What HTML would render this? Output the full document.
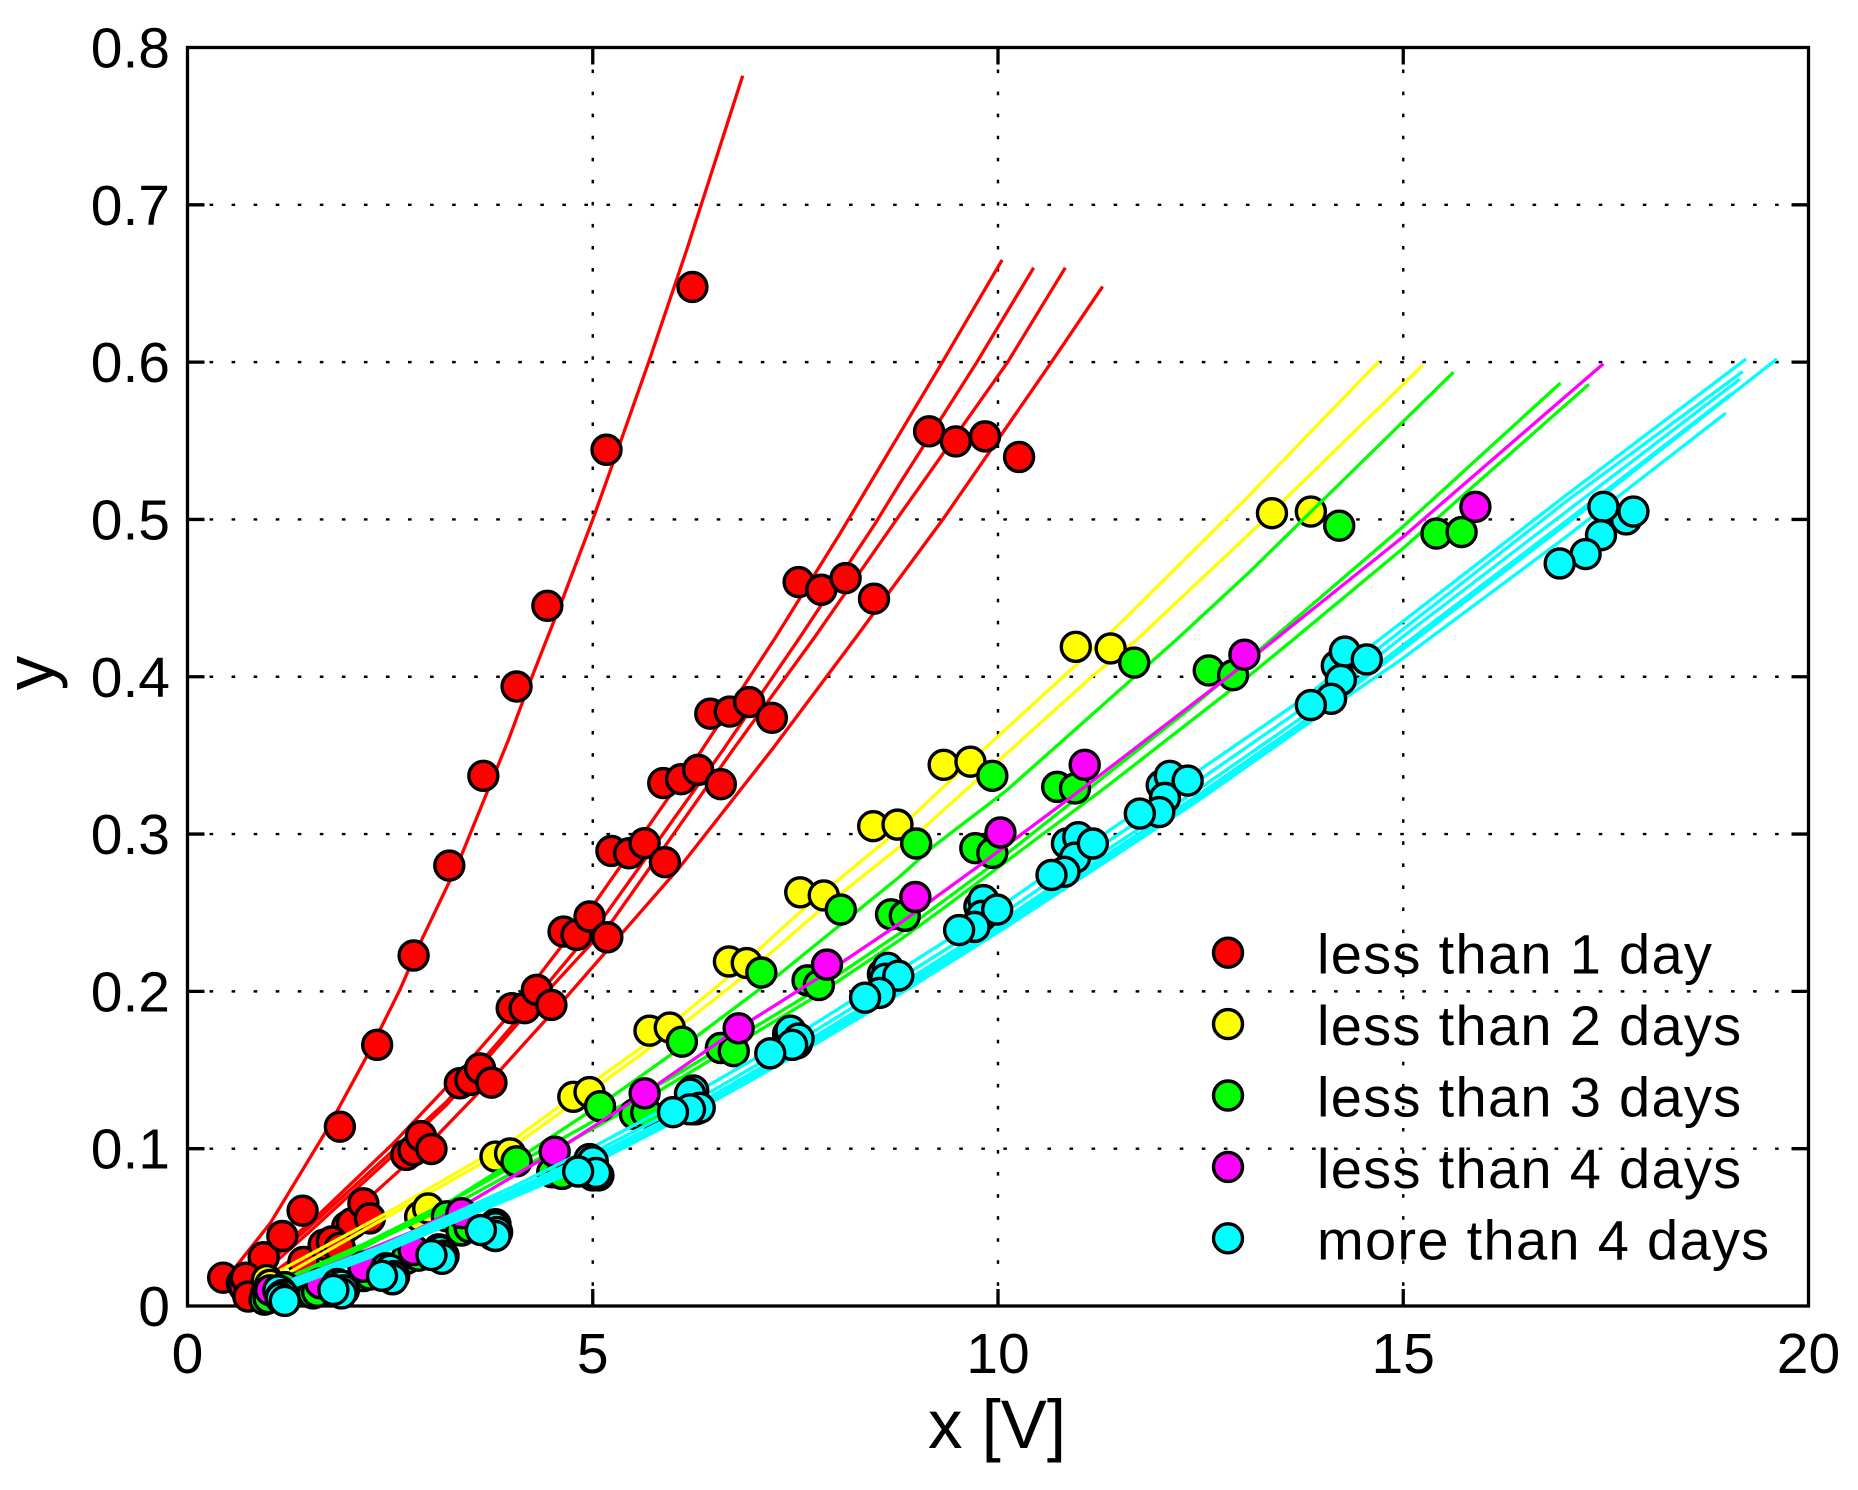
<!DOCTYPE html>
<html lang="en">
<head>
<meta charset="utf-8">
<title>Scatter chart with fitted curves</title>
<style>
html,body{margin:0;padding:0;background:#fff;}
svg{display:block;}
text{font-family:"Liberation Sans",Arial,sans-serif;fill:#000;}
.tick-label{font-size:57px;}
.axis-label{font-size:69px;}
.legend-label{font-size:56px;letter-spacing:1.3px;}
.grid{stroke:#000;stroke-width:2.4;stroke-dasharray:3.6 18.45;fill:none;}
.tick{stroke:#000;stroke-width:3.3;}
.frame{stroke:#000;stroke-width:3.3;fill:none;}
.curve{fill:none;stroke-width:3.3;stroke-linejoin:round;}
.dot{stroke:#000;stroke-width:3.4;}
.red{stroke:#ff0000;} .yellow{stroke:#ffff00;} .green{stroke:#00ff00;} .magenta{stroke:#ff00ff;} .cyan{stroke:#00ffff;}
.dot.red{fill:#ff0000;stroke:#000;} .dot.yellow{fill:#ffff00;stroke:#000;} .dot.green{fill:#00ff00;stroke:#000;} .dot.magenta{fill:#ff00ff;stroke:#000;} .dot.cyan{fill:#00ffff;stroke:#000;}
</style>
</head>
<body>
<svg id="chart" xmlns="http://www.w3.org/2000/svg" width="1858" height="1490" viewBox="0 0 1858 1490"></svg>
<script>
const xTicks = [0, 5, 10, 15, 20];
const yTicks = [0, 0.1, 0.2, 0.3, 0.4, 0.5, 0.6, 0.7, 0.8];
const xTickLabels = ['0', '5', '10', '15', '20'];
const yTickLabels = ['0', '0.1', '0.2', '0.3', '0.4', '0.5', '0.6', '0.7', '0.8'];
const legendLabels = ['less than 1 day', 'less than 2 days', 'less than 3 days', 'less than 4 days', 'more than 4 days'];
const groupNames = ['red', 'yellow', 'green', 'magenta', 'cyan'];

const redLineX = [
 [.53,.565,1.02,1.72,2.21,2.62,2.87,3.34,3.96,4.25,4.64,5.0,5.25,5.69,6.16,6.85],
 [.72,1.55,2.54,3.2,3.92,5.05,6.34,7.25,8.05,9.28,10.05],
 [.75,1.5,2.5,3.2,4.04,5.17,6.61,7.55,8.48,8.79,9.74,10.44],
 [.78,1.5,2.5,3.2,4.06,5.25,6.73,7.73,8.79,10.12,10.83],
 [.85,1.5,2.21,2.99,3.86,4.68,5.38,6.08,7.21,8.24,8.79,9.32,10.66,11.29]
];
const redLineY = [
 [.02,.023,.0526,.112,.1585,.201,.2306,.2815,.36,.4,.451,.5,.5358,.6,.6715,.782],
 [.018,.0547,.1034,.1394,.182,.258,.353,.4246,.491,.597,.665],
 [.016,.05,.097,.13,.18,.2497,.3536,.4246,.497,.523,.6,.66],
 [.014,.047,.094,.128,.1787,.2454,.3536,.4246,.503,.6,.66],
 [.013,.038,.0674,.1035,.15,.1967,.238,.2794,.3536,.4246,.463,.5,.6,.648]
];
const redDotX = [
 [.44,.94,1.17,1.42,1.88,2.34,2.79,3.23,3.65,4.06,4.44,5.17,6.23],
 [.67,1.43,1.97,2.7,3.36,4.0,4.64,5.23,5.87,6.45,7.54,9.15],
 [.7,1.68,2.03,2.79,3.49,4.16,4.8,5.45,6.09,6.69,7.82,9.48],
 [.72,1.78,2.17,2.88,3.61,4.31,4.96,5.64,6.3,6.93,8.12,9.84],
 [.75,1.88,2.25,3.01,3.75,4.49,5.18,5.89,6.58,7.21,8.47,10.26]
];
const redDotY = [
 [.018,.031,.0445,.0606,.114,.166,.2228,.28,.337,.3938,.4451,.5443,.6478],
 [.0145,.028,.0504,.096,.1416,.1893,.238,.2893,.3324,.3765,.4602,.556],
 [.012,.039,.0526,.099,.1437,.1893,.2359,.2878,.3349,.3779,.4553,.5496],
 [.018,.041,.0653,.108,.151,.201,.2476,.2942,.3408,.3839,.4627,.5528],
 [.006,.037,.0557,.0998,.142,.1914,.2344,.2821,.3317,.3739,.4496,.5397]
];

const yellowLineX = [
 [1.0,2.38,4.02,4.64,5.79,6.73,7.68,8.63,9.82,11.3,13.11,14.7],
 [1.02,2.46,4.1,5.05,6.08,6.86,7.76,8.79,9.08,10.02,11.16,11.71,13.11,15.24]
];
const yellowLineY = [
 [.0186,.0568,.1056,.1289,.1713,.2117,.2561,.2963,.3536,.4235,.5157,.6005],
 [.0144,.0565,.1045,.1395,.178,.2094,.2497,.292,.3037,.3472,.4002,.4235,.4913,.598]
];
const yellowDotX = [
 [.98,2.87,3.8,4.76,5.7,6.68,7.56,8.46,9.33,10.96,13.38],
 [1.02,2.97,3.98,4.96,5.95,6.9,7.85,8.76,9.66,11.39,13.86]
];
const yellowDotY = [
 [.0165,.0568,.095,.133,.175,.219,.263,.305,.344,.419,.504],
 [.0135,.062,.097,.136,.177,.218,.261,.306,.346,.418,.505]
];

const greenLineX = [
 [1.06,1.96,3.2,4.15,5.21,6.28,7.27,8.79,9.2,10.1,12.2,13.11,15.62],
 [1.0,2.2,3.4,4.68,6,7.68,8.79,10,12.41,13.2,15,16.94],
 [1.0,2.2,3.4,4.68,5.6,6.5,7.68,8.79,9.29,11.34,13.11,13.64,15,17.29]
];
const greenLineY = [
 [.0123,.0313,.0653,.096,.1321,.1713,.2095,.273,.292,.3275,.4235,.467,.5936],
 [.0125,.04,.071,.108,.146,.1985,.237,.283,.3815,.416,.4956,.5867],
 [.0122,.0385,.0675,.1034,.13,.1578,.1946,.2327,.2515,.3302,.4012,.4235,.4818,.5859]
];
const greenDotX = [
 [.97,1.2,3.2,4.06,5.09,6.1,7.08,8.06,8.99,9.93,11.68,14.21],
 [.95,1.55,2.17,2.7,3.38,4.5,5.52,6.58,7.65,8.68,9.72,10.73,12.6,15.41],
 [1.0,1.6,2.25,2.85,3.48,4.62,5.66,6.74,7.79,8.85,9.93,10.95,12.9,15.72]
];
const greenDotY = [
 [.008,.012,.057,.092,.127,.168,.212,.252,.294,.337,.409,.496],
 [.004,.008,.019,.03,.048,.085,.122,.164,.207,.249,.291,.33,.404,.491],
 [.005,.009,.02,.032,.05,.084,.123,.162,.204,.248,.288,.329,.401,.492]
];

const magentaLineX = [
 [1.02,1.64,2.17,2.79,3.38,4.53,5.64,6.8,7.89,8.79,9.78,10.97,12.9,15,17.47]
];
const magentaLineY = [
 [.012,.0235,.0345,.0475,.063,.0981,.1352,.1765,.212,.2433,.2804,.326,.4023,.489,.599]
];
const magentaDotX = [
 [1.02,1.64,2.17,2.79,3.38,4.53,5.64,6.8,7.89,8.98,10.03,11.07,13.04,15.89]
];
const magentaDotY = [
 [.01,.0144,.025,.0356,.059,.0981,.1352,.1765,.217,.26,.301,.344,.414,.508]
];

const cyanLineX = [
 [1.08,2.38,4.02,5,6.4,7.68,8.92,10.15,11.42,12.49,13.69,14.97,17,19.23],
 [1.1,2.38,4.02,5,6.4,7.68,8.92,10.15,11.42,12.49,13.69,14.97,17,19.19],
 [1.1,2.38,4.02,5,6.4,7.68,8.92,10.15,11.42,12.49,13.69,14.97,17,19.15],
 [1.1,2.38,4.02,5,6.4,7.68,8.92,10.15,11.42,12.49,13.69,14.97,17,19.05],
 [1.1,2.38,4.02,5,6.4,7.68,8.92,10.15,11.42,12.49,13.69,14.97,17,19.61],
 [1.1,2.38,4.02,5,6.4,7.68,8.92,10.15,11.42,12.49,13.69,14.97,17,18.98]
];
const cyanLineY = [
 [.0125,.0377,.0759,.101,.1394,.1775,.2178,.2582,.304,.3408,.3834,.4341,.515,.602],
 [.0115,.0362,.0735,.0975,.1345,.173,.2125,.2525,.2975,.3345,.3775,.429,.511,.594],
 [.011,.035,.0715,.095,.1315,.1695,.2085,.2485,.2925,.329,.372,.4245,.5045,.589],
 [.0105,.0345,.0705,.0935,.13,.1675,.2065,.2465,.2895,.3255,.3685,.419,.4985,.58],
 [.0095,.034,.07,.0925,.129,.166,.2045,.2445,.2875,.3235,.3665,.4165,.4965,.602],
 [.0085,.0335,.0692,.0905,.1275,.1645,.2025,.2425,.2855,.322,.3655,.4108,.4885,.5676]
];
const cyanDotX = [
 [1.15,1.85,2.45,3.1,3.8,4.96,6.24,7.41,8.58,9.77,10.85,12.02,14.18,17.75],
 [1.12,1.9,2.5,3.12,3.8,5.0,6.2,7.44,8.64,9.82,10.99,12.12,14.28,17.47],
 [1.15,1.9,2.52,3.13,3.77,5.0,6.27,7.52,8.61,9.8,10.95,12.06,14.23,17.44],
 [1.18,1.93,2.55,3.16,3.82,5.07,6.32,7.54,8.77,9.99,11.17,12.34,14.55,17.84],
 [1.15,1.9,2.53,3.14,3.8,5.04,6.2,7.46,8.54,9.71,10.82,11.99,14.11,17.25],
 [1.2,1.8,2.4,3.01,3.62,4.82,5.99,7.19,8.36,9.52,10.66,11.75,13.86,16.93]
];
const cyanDotY = [
 [.009,.014,.024,.036,.052,.0934,.137,.173,.211,.254,.294,.331,.407,.5],
 [.01,.013,.023,.035,.05,.092,.135,.175,.215,.258,.298,.337,.416,.508],
 [.006,.009,.018,.031,.045,.083,.125,.167,.208,.248,.285,.323,.398,.49],
 [.007,.01,.019,.032,.047,.083,.126,.17,.21,.252,.294,.334,.411,.505],
 [.005,.008,.017,.03,.0445,.0846,.125,.166,.199,.241,.276,.314,.386,.478],
 [.0032,.0102,.0192,.0324,.0483,.0855,.1232,.1606,.196,.239,.274,.313,.382,.472]
];

const lineXByGroup = [redLineX, yellowLineX, greenLineX, magentaLineX, cyanLineX];
const lineYByGroup = [redLineY, yellowLineY, greenLineY, magentaLineY, cyanLineY];
const dotXByGroup = [redDotX, yellowDotX, greenDotX, magentaDotX, cyanDotX];
const dotYByGroup = [redDotY, yellowDotY, greenDotY, magentaDotY, cyanDotY];

const PLOT_LEFT = 187.5, PLOT_RIGHT = 1808.5, PLOT_TOP = 47.5, PLOT_BOTTOM = 1306;
const X_MAX = 20, Y_MAX = 0.8;
function sx(v) { return PLOT_LEFT + (v / X_MAX) * (PLOT_RIGHT - PLOT_LEFT); }
function sy(v) { return PLOT_BOTTOM - (v / Y_MAX) * (PLOT_BOTTOM - PLOT_TOP); }

const NS = 'http://www.w3.org/2000/svg';
const svg = document.getElementById('chart');
function make(tag, attrs, parent) {
  const el = document.createElementNS(NS, tag);
  for (const k in attrs) el.setAttribute(k, attrs[k]);
  (parent || svg).appendChild(el);
  return el;
}

const gridLayer = make('g', {});


xTicks.forEach(function (t) {
  if (t === 0 || t === X_MAX) return;
  const el = make('line', { x1: sx(t), x2: sx(t), y1: PLOT_TOP, y2: PLOT_BOTTOM, class: 'grid' }, gridLayer);
  
  
});
yTicks.forEach(function (t) {
  if (t === 0 || t === Y_MAX) return;
  const el = make('line', { x1: PLOT_LEFT, x2: PLOT_RIGHT, y1: sy(t), y2: sy(t), class: 'grid' }, gridLayer);
  
  
});

const frame = make('rect', { x: PLOT_LEFT, y: PLOT_TOP, width: PLOT_RIGHT - PLOT_LEFT, height: PLOT_BOTTOM - PLOT_TOP, class: 'frame' });



const TICK_LEN = 17;
xTicks.forEach(function (t, i) {
  if (t !== 0 && t !== X_MAX) {
    const b = make('line', { x1: sx(t), x2: sx(t), y1: PLOT_BOTTOM, y2: PLOT_BOTTOM - TICK_LEN, class: 'tick' });
    
    
    const u = make('line', { x1: sx(t), x2: sx(t), y1: PLOT_TOP, y2: PLOT_TOP + TICK_LEN, class: 'tick' });
    
    
  }
  const label = make('text', { x: sx(t), y: 1373, 'text-anchor': 'middle', class: 'tick-label' });
  label.textContent = xTickLabels[i];
  
  
});
yTicks.forEach(function (t, i) {
  if (t !== 0 && t !== Y_MAX) {
    const l = make('line', { x1: PLOT_LEFT, x2: PLOT_LEFT + TICK_LEN, y1: sy(t), y2: sy(t), class: 'tick' });
    
    
    const r = make('line', { x1: PLOT_RIGHT, x2: PLOT_RIGHT - TICK_LEN, y1: sy(t), y2: sy(t), class: 'tick' });
    
    
  }
  const label = make('text', { x: 170, y: sy(t) + 20, 'text-anchor': 'end', class: 'tick-label' });
  label.textContent = yTickLabels[i];
  
  
});

const xTitle = make('text', { x: 997, y: 1448, 'text-anchor': 'middle', class: 'axis-label' });
xTitle.textContent = 'x [V]';



const yTitle = make('text', { x: 0, y: 0, 'text-anchor': 'middle', class: 'axis-label', transform: 'translate(53 673) rotate(-90)' });
yTitle.textContent = 'y';



const DOT_R = 14.5;
groupNames.forEach(function (name, g) {
  const group = make('g', {});
  
  
  lineXByGroup[g].forEach(function (xs, c) {
    const ys = lineYByGroup[g][c];
    const pts = xs.map(function (x, i) { return sx(x).toFixed(1) + ',' + sy(ys[i]).toFixed(1); }).join(' ');
    const el = make('polyline', { points: pts, class: 'curve ' + name }, group);
    
    
  });
  dotXByGroup[g].forEach(function (xs, c) {
    const ys = dotYByGroup[g][c];
    xs.forEach(function (x, i) {
      const el = make('circle', { cx: sx(x), cy: sy(ys[i]), r: DOT_R, class: 'dot ' + name }, group);
      
      
    });
  });
});

const legend = make('g', {});


const LEGEND_TOP = 952.7, LEGEND_STEP = 71.4;
legendLabels.forEach(function (text, i) {
  const cy = LEGEND_TOP + i * LEGEND_STEP;
  const marker = make('circle', { cx: 1228, cy: cy, r: DOT_R, class: 'dot ' + groupNames[i] }, legend);
  
  
  const label = make('text', { x: 1317, y: cy + 21, class: 'legend-label' }, legend);
  label.textContent = text;
  
  
});
</script>
</body>
</html>
